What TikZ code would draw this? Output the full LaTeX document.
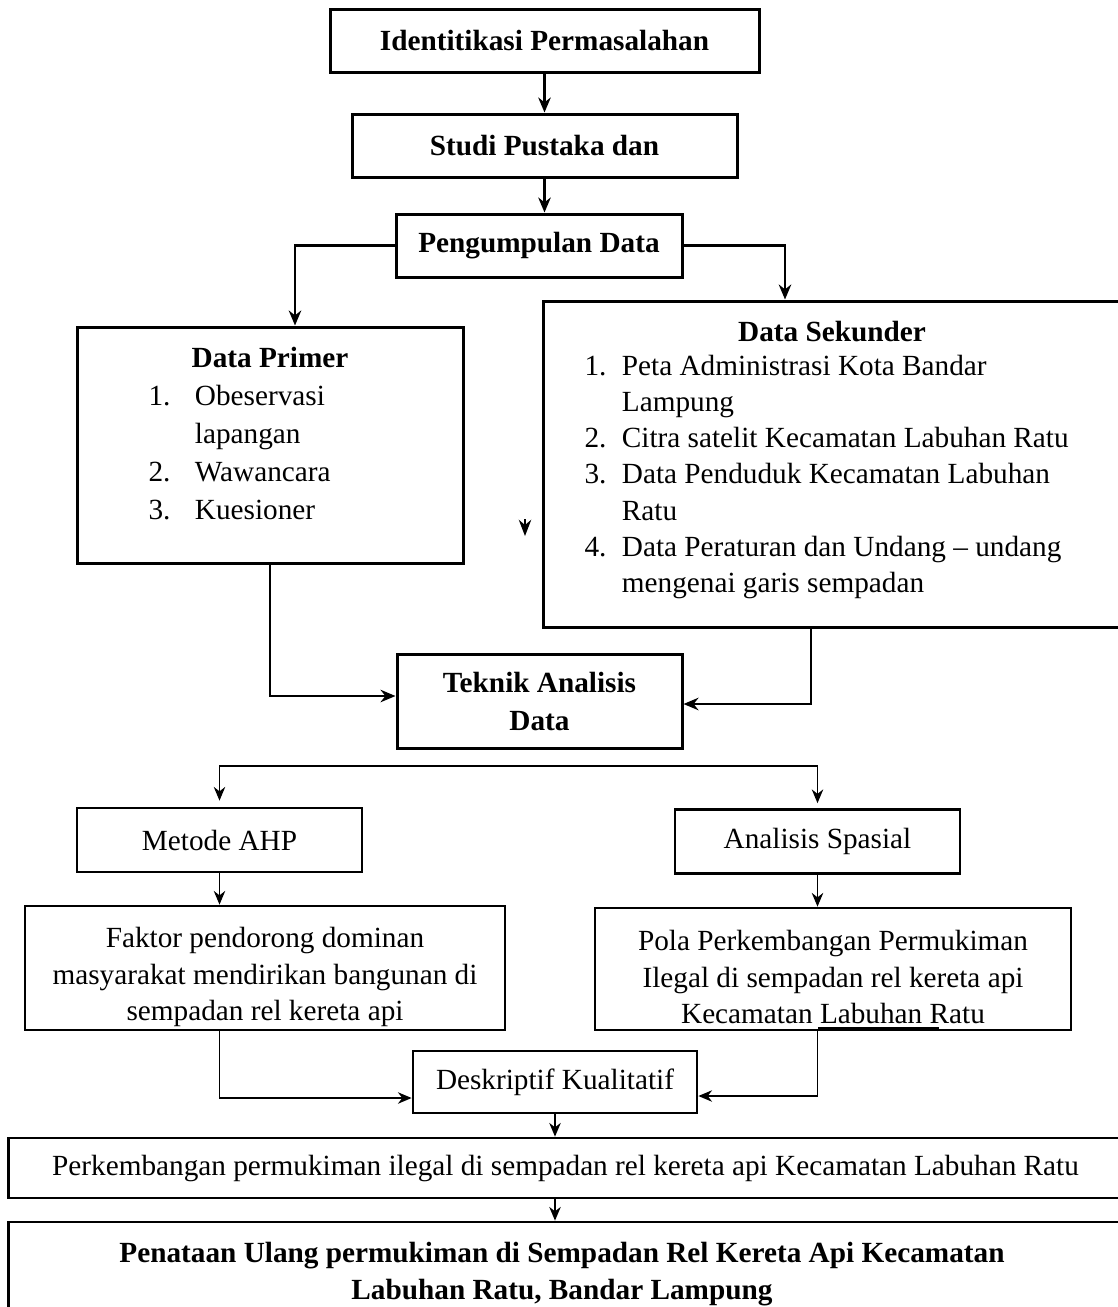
\documentclass[tikz,border=0pt]{standalone}
\usepackage{fontspec}
\setmainfont{Liberation Serif}
\usetikzlibrary{arrows.meta,positioning}
\tikzset{
  boxsize/.style 2 args={minimum width=#1*0.4pt, minimum height=#2*0.4pt},
  flowbox/.style={draw=black, line width=1.2pt, inner sep=0pt, align=center,
    font=\fontsize{11.7}{15}\selectfont\bfseries},
  thinbox/.style={draw=black, line width=1.1pt, inner sep=0pt, align=center,
    font=\fontsize{11.7}{14.6}\selectfont},
  plaintext/.style={inner sep=0pt, align=center, font=\fontsize{11.7}{14.6}\selectfont},
  boldarrow/.style={-{Stealth[length=6pt,width=5pt]}, line width=1pt},
  thinarrow/.style={-{Stealth[length=5.5pt,width=4.6pt]}, line width=0.5pt}
}
\begin{document}
\begin{tikzpicture}[x=0.4pt,y=-0.4pt]
  \useasboundingbox (0,0) rectangle (1118,1307);
  \clip (0,0) rectangle (1118,1307);

  % upper part
  \node[flowbox,boxsize={429}{63}] (ident) at (544.5,40.5) {Identitikasi Permasalahan};
  \node[flowbox,boxsize={385}{63}] (studi) at (544.5,145.5) {Studi Pustaka dan};
  \node[flowbox,boxsize={286}{63}] (peng) at (539,245.5) {Pengumpulan Data};
  \node[flowbox,boxsize={386}{236}] (prim) at (270,445) {};
  \node[flowbox,boxsize={582}{326}] (sek) at (834,464) {};
  \node[flowbox,boxsize={285}{94},font=\fontsize{11.7}{15.2}\selectfont\bfseries] (teknik) at (539.5,701) {Teknik Analisis\\Data};

  \node[plaintext,font=\fontsize{11.7}{15}\selectfont\bfseries,anchor=base] (prim-title) at (270,367) {Data Primer};
  \node[plaintext,font=\fontsize{11.7}{15.2}\selectfont,anchor=base west] (prim-list) at (148,405)
    {\begin{tabular}[t]{@{}l@{\hspace{9.8pt}}l@{}}
      1. & Obeservasi\\
         & lapangan\\
      2. & Wawancara\\
      3. & Kuesioner
    \end{tabular}};
  \node[plaintext,font=\fontsize{11.7}{15}\selectfont\bfseries,anchor=base] (sek-title) at (832,341) {Data Sekunder};
  \node[plaintext,font=\fontsize{11.7}{14.5}\selectfont,anchor=base west] (sek-list) at (584,375)
    {\begin{tabular}[t]{@{}l@{\hspace{6.2pt}}l@{}}
      1. & Peta Administrasi Kota Bandar\\
         & Lampung\\
      2. & Citra satelit Kecamatan Labuhan Ratu\\
      3. & Data Penduduk Kecamatan Labuhan\\
         & Ratu\\
      4. & Data Peraturan dan Undang – undang\\
         & mengenai garis sempadan
    \end{tabular}};

  % lower part
  \node[thinbox,boxsize={285}{64}] (ahp) at (219.5,840) {Metode AHP};
  \node[thinbox,boxsize={285}{64}] (spasial) at (817.5,841.5) {Analisis Spasial};
  \node[thinbox,boxsize={480}{124}] (faktor) at (265,968) {};
  \node[thinbox,boxsize={476}{122}] (pola) at (833,969) {};
  \node[thinbox,boxsize={284}{62}] (deskr) at (555,1082) {Deskriptif Kualitatif};
  \node[thinbox,boxsize={1114}{60}] (perk) at (565.5,1168)
    {Perkembangan permukiman ilegal di sempadan rel kereta api Kecamatan Labuhan Ratu};
  \node[thinbox,boxsize={1114}{100}] (penataan) at (565.5,1272) {};

  \node[plaintext] (faktor-text) at (265,977)
    {Faktor pendorong dominan\\masyarakat mendirikan bangunan di\\sempadan rel kereta api};
  \node[plaintext] (pola-text) at (833,977)
    {Pola Perkembangan Permukiman\\Ilegal di sempadan rel kereta api\\Kecamatan Labuhan Ratu};
  \node[plaintext,font=\fontsize{11.7}{14.8}\selectfont\bfseries] (penataan-text) at (562,1274)
    {Penataan Ulang permukiman di Sempadan Rel Kereta Api Kecamatan\\Labuhan Ratu, Bandar Lampung};

  \coordinate (split) at (543,766);
  \coordinate (stray-a) at (525,519);
  \coordinate (stray-b) at (525,536);
  \coordinate (pola-a) at (818,1028.5);
  \coordinate (pola-b) at (939,1028.5);

  % connectors
  \draw[boldarrow] (ident) -- (studi);
  \draw[boldarrow] (studi.south) -- (studi.south |- peng.north);
  \draw[boldarrow] (peng.west) -| ([xshift=10pt]prim.north);
  \draw[boldarrow] (peng.east) -| ([xshift=-19.6pt]sek.north);
  \draw[boldarrow] (prim.south) |- ([yshift=2pt]teknik.west);
  \draw[boldarrow] ([xshift=-9.2pt]sek.south) |- ([yshift=-1.2pt]teknik.east);
  \draw[-{Stealth[length=6.5pt,width=5pt]}, line width=0.5pt] (stray-a) -- (stray-b);

  \draw[thinarrow] (split) -| ([yshift=2.4pt]ahp.north);
  \draw[thinarrow] (split) -| ([yshift=2pt]spasial.north);
  \draw[thinarrow] (ahp.south) -- (ahp.south |- faktor.north);
  \draw[thinarrow] (spasial.south) -- (spasial.south |- pola.north);
  \draw[thinarrow] (faktor.south -| ahp.south) |- ([yshift=-6.4pt]deskr.west);
  \draw[thinarrow] (pola.south -| spasial.south) |- ([yshift=-5.6pt]deskr.east);
  \draw[thinarrow] (deskr.south) -- (deskr.south |- perk.north);
  \draw[thinarrow] (deskr.south |- perk.south) -- (deskr.south |- penataan.north);
  \draw[line width=1.1pt] (pola-a) -- (pola-b);
\end{tikzpicture}
\end{document}
